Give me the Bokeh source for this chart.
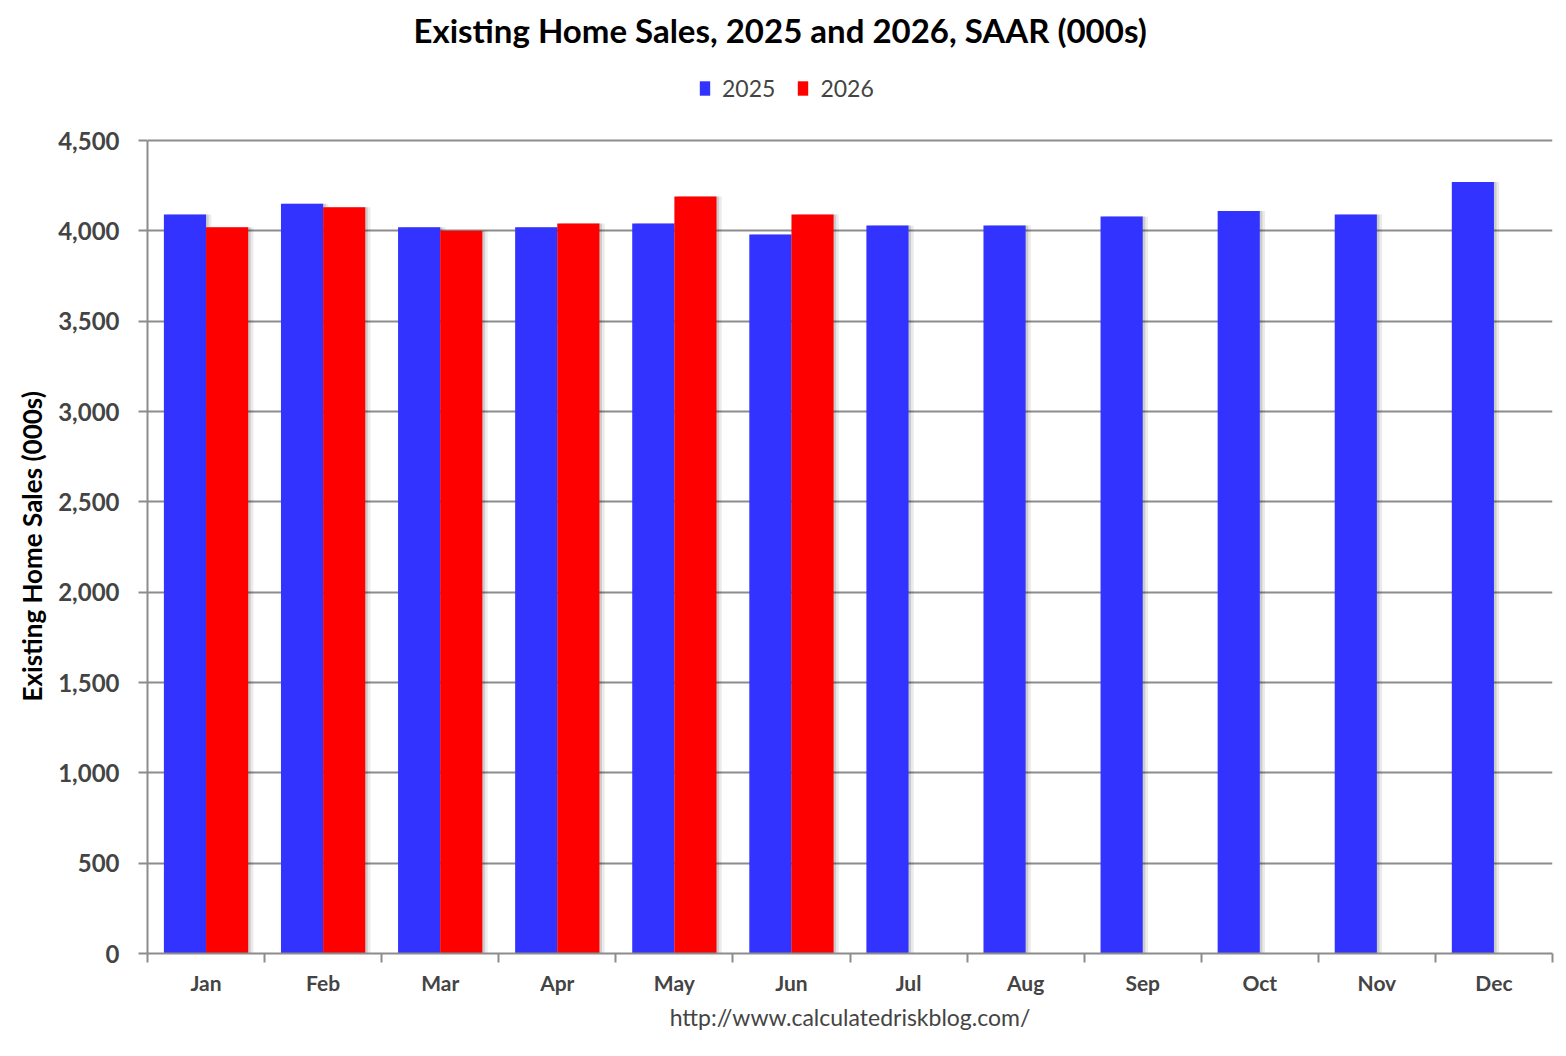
import numpy as np
from bokeh.plotting import figure
from bokeh.models import (ColumnDataSource, FixedTicker, NumeralTickFormatter,
                          Legend, LegendItem, Range1d, Title)
from bokeh.transform import dodge
from bokeh.embed import file_html
from bokeh.resources import INLINE

months = ["Jan", "Feb", "Mar", "Apr", "May", "Jun",
          "Jul", "Aug", "Sep", "Oct", "Nov", "Dec"]
sales_2025 = [4090, 4150, 4020, 4020, 4040, 3980, 4030, 4030, 4080, 4110, 4090, 4270]
sales_2026 = [4020, 4130, 4000, 4040, 4190, 4090]
y_ticks = [0, 500, 1000, 1500, 2000, 2500, 3000, 3500, 4000, 4500]
y_max = 4500

idx = list(range(len(months)))
src25 = ColumnDataSource(dict(x=idx, y=sales_2025))
src26 = ColumnDataSource(dict(x=idx[:len(sales_2026)], y=sales_2026))

FONT = "Lato"
GRID = "#8c8c8c"

# layout (pixels): frame extends up into the header so the legend sits in it
W, H = 1558, 1040
FRAME_TOP, AXIS_TOP, FRAME_BOTTOM = 54, 140, 953
y_end = y_max * (FRAME_BOTTOM - FRAME_TOP) / (FRAME_BOTTOM - AXIS_TOP)

p = figure(width=W, height=H, output_backend="svg", toolbar_location=None,
           x_range=Range1d(-0.5, len(months) - 0.5), y_range=Range1d(0, y_end),
           min_border_left=147, min_border_right=6, min_border_top=FRAME_TOP,
           min_border_bottom=H - FRAME_BOTTOM)

p.title.text = "Existing Home Sales,  2025 and 2026, SAAR (000s)"
p.title.text_font = FONT
p.title.text_font_size = "33px"
p.title.text_font_style = "bold"
p.title.align = "left"
p.title.offset = 266
p.title.text_color = "black"

bw = 0.36
# shadows
for src, off in ((src25, -0.18), (src26, 0.18)):
    p.vbar(x=dodge("x", off + 0.045, range=p.x_range), top="y", width=bw, bottom=0,
           source=src, fill_color="black", fill_alpha=0.08, line_color=None)
    p.vbar(x=dodge("x", off + 0.022, range=p.x_range), top="y", width=bw, bottom=0,
           source=src, fill_color="black", fill_alpha=0.13, line_color=None)

r25 = p.vbar(x=dodge("x", -0.18, range=p.x_range), top="y", width=bw, bottom=0,
             source=src25, fill_color="#3333ff", line_color=None)
r26 = p.vbar(x=dodge("x", 0.18, range=p.x_range), top="y", width=bw, bottom=0,
             source=src26, fill_color="#ff0000", line_color=None)

legend = Legend(items=[LegendItem(label="2025", renderers=[r25]),
                       LegendItem(label="2026", renderers=[r26])],
                orientation="horizontal", location=(551, FRAME_BOTTOM - 102),
                label_text_font=FONT, label_text_font_size="23px",
                glyph_width=13, glyph_height=18, spacing=21,
                label_standoff=11, border_line_color=None,
                background_fill_alpha=0, padding=0, margin=0)
p.add_layout(legend, "center")

# axes
xa = p.xaxis[0]
xa.ticker = FixedTicker(ticks=idx, minor_ticks=[i - 0.5 for i in range(len(months) + 1)])
xa.major_label_overrides = {i: m for i, m in enumerate(months)}
xa.major_tick_line_color = None
xa.major_tick_out = 8
xa.minor_tick_in = 0
xa.minor_tick_out = 9
xa.minor_tick_line_color = GRID
xa.minor_tick_line_width = 2
xa.axis_line_color = GRID
xa.axis_line_width = 2
xa.major_label_text_font = FONT
xa.major_label_text_font_style = "bold"
xa.major_label_text_font_size = "21px"
xa.major_label_standoff = 7
xa.axis_label = "http://www.calculatedriskblog.com/"
xa.axis_label_text_font = FONT
xa.axis_label_text_font_style = "normal"
xa.axis_label_text_font_size = "23px"
xa.axis_label_standoff = 5

ya = p.yaxis[0]
ya.ticker = FixedTicker(ticks=y_ticks, minor_ticks=[])
ya.bounds = (0, y_max)
ya.formatter = NumeralTickFormatter(format="0,0")
ya.major_tick_in = 0
ya.major_tick_out = 9
ya.major_tick_line_color = GRID
ya.major_tick_line_width = 2
ya.axis_line_color = GRID
ya.axis_line_width = 2
ya.major_label_text_font = FONT
ya.major_label_text_font_style = "bold"
ya.major_label_text_font_size = "24px"
ya.major_label_standoff = 19

ylab = Title(text="Existing Home Sales (000s)", align="left", offset=252,
             text_font=FONT, text_font_style="bold", text_font_size="26px",
             text_color="black", standoff=16)
p.add_layout(ylab, "left")

p.xgrid.grid_line_color = None
p.ygrid.grid_line_color = GRID
p.ygrid.grid_line_width = 2
p.outline_line_color = None
p.background_fill_color = "white"
p.border_fill_color = "white"

open("out.html", "w").write(file_html(p, INLINE))
